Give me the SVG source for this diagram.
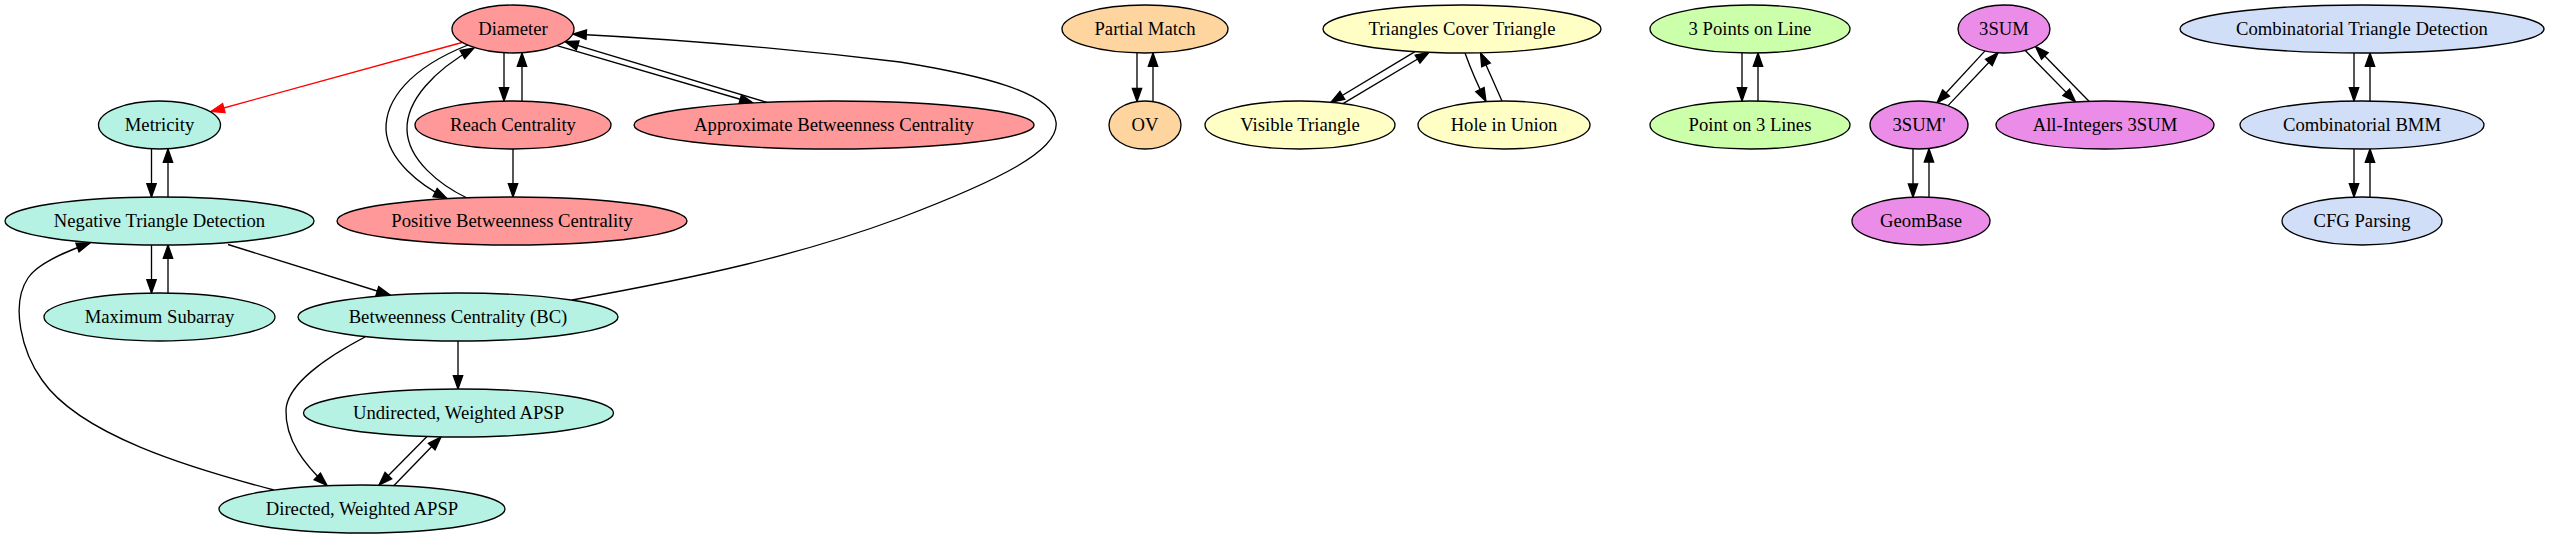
<svg xmlns="http://www.w3.org/2000/svg" width="2549" height="539" viewBox="0 0 2549 539">
<style>
  .n ellipse { stroke: #000; stroke-width: 1.33; }
  .n text { font-family: "Liberation Serif", "Times New Roman", serif; font-size: 18.67px; text-anchor: middle; fill: #000; }
  .e path { fill: none; stroke: #000; stroke-width: 1.33; marker-end: url(#ah); }
  .e path.red { stroke: #ff0000; marker-end: url(#ahr); }
  .pink { fill: #ff9999; }
  .mint { fill: #b5f2e3; }
  .orange { fill: #ffd59f; }
  .yellow { fill: #ffffc5; }
  .green { fill: #ccffaa; }
  .violet { fill: #ec8ce9; }
  .blue { fill: #d0def8; }
</style>
<defs>
  <marker id="ah" markerUnits="userSpaceOnUse" markerWidth="18" markerHeight="14" viewBox="-2 -7 18 14" refX="13.3" refY="0" orient="auto">
    <path d="M0,-4.67 L13.3,0 L0,4.67 Z" fill="#000" stroke="#000" stroke-width="1.33"/>
  </marker>
  <marker id="ahr" markerUnits="userSpaceOnUse" markerWidth="18" markerHeight="14" viewBox="-2 -7 18 14" refX="13.3" refY="0" orient="auto">
    <path d="M0,-4.67 L13.3,0 L0,4.67 Z" fill="#ff0000" stroke="#ff0000" stroke-width="1.33"/>
  </marker>
</defs>
<rect width="2549" height="539" fill="#fff"/>
<g id="edges" class="e">
  <path class="red" d="M462,42.5 L211,111.5"/>
  <path d="M151.5,149 L151.5,197"/>
  <path d="M168,197 L168,149"/>
  <path d="M151.5,245 L151.5,293"/>
  <path d="M168,293 L168,245"/>
  <path d="M228,244.5 L390,295"/>
  <path d="M274,490 C190,468 80,435 42,380 C22,352 10,305 28,278 C37,264 62,253 90,243"/>
  <path d="M458,341 L458,389"/>
  <path d="M365,337 C325,358 287,385 286,410 C285,440 305,465 327,485.5"/>
  <path d="M427,436.5 L379,485"/>
  <path d="M394,485.5 L441,437"/>
  <path d="M572,300 C700,277 800,255 900,218 C1000,180 1060,150 1056,122 C1052,92 980,75 900,62 C800,50 690,40 573,34"/>
  <path d="M504,53 L504,101"/>
  <path d="M522,101 L522,53"/>
  <path d="M513,149 L513,197"/>
  <path d="M468,45 C410,68 385,100 386,130 C388,160 420,185 447,198.5"/>
  <path d="M467,198 C440,185 408,160 407,130 C406,100 435,70 474,48"/>
  <path d="M557,45.6 L753,103"/>
  <path d="M767,102.4 L565,41.6"/>
  <path d="M1137,53 L1137,101.6"/>
  <path d="M1153,101.6 L1153,53"/>
  <path d="M1415,51.6 L1331,102.3"/>
  <path d="M1343,103.6 L1429,52.3"/>
  <path d="M1465,53 Q1474,78 1486,101.5"/>
  <path d="M1502,101 Q1491,76 1480.5,52.8"/>
  <path d="M1742,53 L1742,101"/>
  <path d="M1758,101 L1758,53"/>
  <path d="M1985,50.9 L1937,102.7"/>
  <path d="M1948,105.6 L1998,52.8"/>
  <path d="M2025,50.3 L2075.5,101.9"/>
  <path d="M2089,101.2 L2035.5,46.5"/>
  <path d="M1913,148.7 L1913,197.2"/>
  <path d="M1929,197.2 L1929,148.7"/>
  <path d="M2354,53 L2354,101"/>
  <path d="M2370,101 L2370,53"/>
  <path d="M2354,149 L2354,197"/>
  <path d="M2370,197 L2370,149"/>
</g>
<g id="n-diameter" class="n"><ellipse class="pink" cx="513" cy="29" rx="61" ry="24"/><text x="513" y="35">Diameter</text></g>
<g id="n-metricity" class="n"><ellipse class="mint" cx="159.5" cy="125" rx="61" ry="24"/><text x="159.5" y="131">Metricity</text></g>
<g id="n-reach" class="n"><ellipse class="pink" cx="513" cy="125" rx="98" ry="24"/><text x="513" y="131">Reach Centrality</text></g>
<g id="n-approx-bc" class="n"><ellipse class="pink" cx="834" cy="125" rx="200" ry="24"/><text x="834" y="131">Approximate Betweenness Centrality</text></g>
<g id="n-neg-tri" class="n"><ellipse class="mint" cx="159.5" cy="221" rx="154.5" ry="24"/><text x="159.5" y="227">Negative Triangle Detection</text></g>
<g id="n-pos-bc" class="n"><ellipse class="pink" cx="512" cy="221" rx="175" ry="24"/><text x="512" y="227">Positive Betweenness Centrality</text></g>
<g id="n-max-sub" class="n"><ellipse class="mint" cx="159.5" cy="317" rx="115.5" ry="24"/><text x="159.5" y="323">Maximum Subarray</text></g>
<g id="n-bc" class="n"><ellipse class="mint" cx="458" cy="317" rx="160" ry="24"/><text x="458" y="323">Betweenness Centrality (BC)</text></g>
<g id="n-uw-apsp" class="n"><ellipse class="mint" cx="458.5" cy="413" rx="155" ry="24"/><text x="458.5" y="419">Undirected, Weighted APSP</text></g>
<g id="n-dw-apsp" class="n"><ellipse class="mint" cx="362" cy="509" rx="143" ry="24"/><text x="362" y="515">Directed, Weighted APSP</text></g>
<g id="n-partial" class="n"><ellipse class="orange" cx="1145" cy="29" rx="83" ry="24"/><text x="1145" y="35">Partial Match</text></g>
<g id="n-ov" class="n"><ellipse class="orange" cx="1145" cy="125" rx="36" ry="24"/><text x="1145" y="131">OV</text></g>
<g id="n-tct" class="n"><ellipse class="yellow" cx="1462" cy="29" rx="139" ry="24"/><text x="1462" y="35">Triangles Cover Triangle</text></g>
<g id="n-visible" class="n"><ellipse class="yellow" cx="1300" cy="125" rx="95" ry="24"/><text x="1300" y="131">Visible Triangle</text></g>
<g id="n-hole" class="n"><ellipse class="yellow" cx="1504" cy="125" rx="86" ry="24"/><text x="1504" y="131">Hole in Union</text></g>
<g id="n-3pts" class="n"><ellipse class="green" cx="1750" cy="29" rx="100" ry="24"/><text x="1750" y="35">3 Points on Line</text></g>
<g id="n-pt3" class="n"><ellipse class="green" cx="1750" cy="125" rx="100" ry="24"/><text x="1750" y="131">Point on 3 Lines</text></g>
<g id="n-3sum" class="n"><ellipse class="violet" cx="2004" cy="29" rx="46" ry="24"/><text x="2004" y="35">3SUM</text></g>
<g id="n-3sump" class="n"><ellipse class="violet" cx="1919" cy="125" rx="49" ry="24"/><text x="1919" y="131">3SUM'</text></g>
<g id="n-allint" class="n"><ellipse class="violet" cx="2105" cy="125" rx="109" ry="24"/><text x="2105" y="131">All-Integers 3SUM</text></g>
<g id="n-geombase" class="n"><ellipse class="violet" cx="1921" cy="221" rx="69" ry="24"/><text x="1921" y="227">GeomBase</text></g>
<g id="n-ctd" class="n"><ellipse class="blue" cx="2362" cy="29" rx="182" ry="24"/><text x="2362" y="35">Combinatorial Triangle Detection</text></g>
<g id="n-bmm" class="n"><ellipse class="blue" cx="2362" cy="125" rx="122" ry="24"/><text x="2362" y="131">Combinatorial BMM</text></g>
<g id="n-cfg" class="n"><ellipse class="blue" cx="2362" cy="221" rx="80" ry="24"/><text x="2362" y="227">CFG Parsing</text></g>
</svg>
